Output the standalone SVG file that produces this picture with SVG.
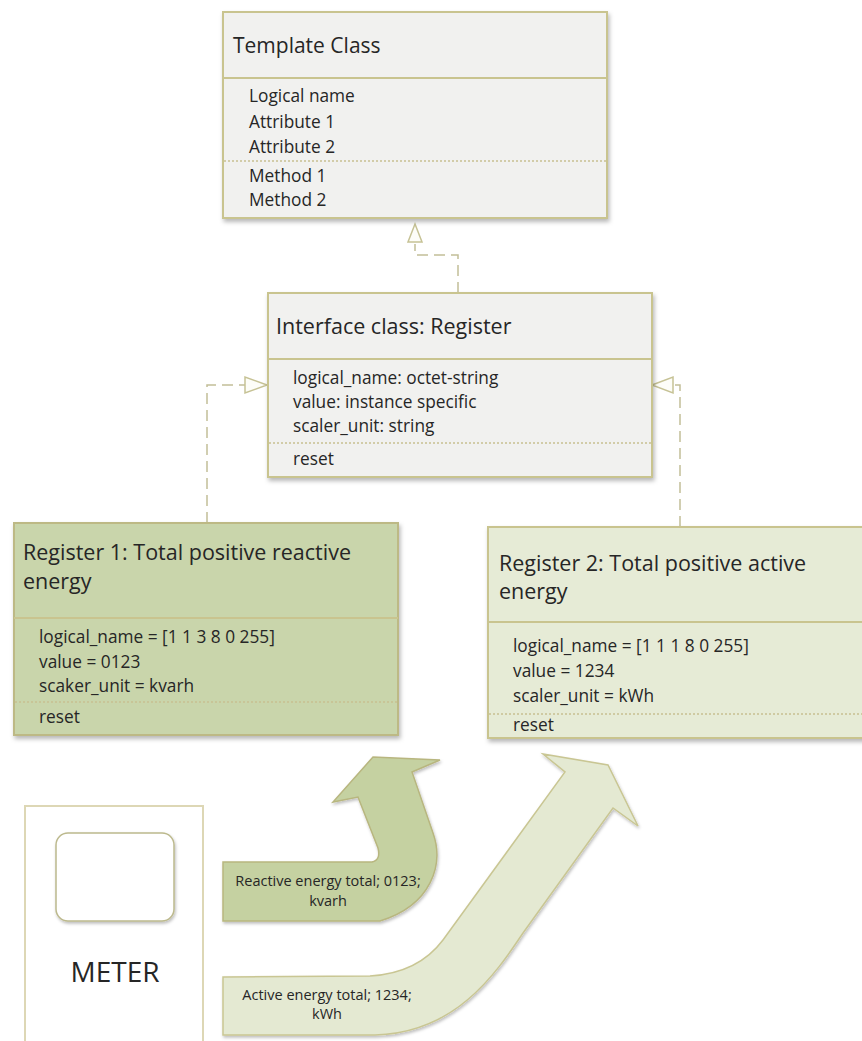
<svg xmlns="http://www.w3.org/2000/svg" width="862" height="1041" viewBox="0 0 862 1041">
  <defs>
    <filter id="shadow" x="-10%" y="-10%" width="120%" height="125%">
      <feDropShadow dx="1.5" dy="3" stdDeviation="2" flood-color="#000" flood-opacity="0.28"/>
    </filter>
    <filter id="softShadow" x="-10%" y="-10%" width="125%" height="125%">
      <feDropShadow dx="1" dy="2" stdDeviation="1.5" flood-color="#000" flood-opacity="0.25"/>
    </filter>
  </defs>
  <style>
    text { font-family: "Open Sans", Lato, "Liberation Sans", sans-serif; fill: #262626; }
    .title { font-size: 21px; }
    .item { font-size: 17.3px; }
    .rtitle { font-size: 21.5px; }
    .small { font-size: 14.5px; text-anchor: middle; }
    .cls { fill: #f1f1ef; stroke: #c9c48f; stroke-width: 2; }
    .reg1 { fill: #c9d5ab; stroke: #bdb985; stroke-width: 2; }
    .reg2 { fill: #e6ebd6; stroke: #c9c48f; stroke-width: 2; }
    .sep { stroke: #c9c48f; stroke-width: 2; }
    .dots { stroke: #c8c091; stroke-width: 1.3; stroke-dasharray: 2 2; }
    .conn { fill: none; stroke: #c2be98; stroke-width: 1.5; stroke-dasharray: 11 6; }
    .head { fill: #fdfdf8; stroke: #c6c295; stroke-width: 1.5; }
  </style>

  <!-- connectors: realization links up to the parent classes -->
  <g id="connectors">
    <path class="conn" d="M458,293 L458,255 L415,255 L415,244"/>
    <path class="head" d="M415,224 L422,242 L408,242 Z"/>
    <path class="conn" d="M207,523 L207,385 L245,385"/>
    <path class="head" d="M267,385 L245,377 L245,393 Z"/>
    <path class="conn" d="M680,527 L680,385 L673,385"/>
    <path class="head" d="M652,385 L673,377 L673,393 Z"/>
  </g>

  <!-- template class -->
  <g id="template-class">
    <rect class="cls" x="223" y="12" width="384" height="206" filter="url(#shadow)"/>
    <line class="sep" x1="223" y1="78" x2="607" y2="78"/>
    <text class="title" x="233" y="53">Template Class</text>
    <text class="item" x="249" y="102">Logical name</text>
    <text class="item" x="249" y="128">Attribute 1</text>
    <text class="item" x="249" y="153">Attribute 2</text>
    <line class="dots" x1="224" y1="161" x2="606" y2="161"/>
    <text class="item" x="249" y="182">Method 1</text>
    <text class="item" x="249" y="206">Method 2</text>
  </g>

  <!-- interface class -->
  <g id="interface-register">
    <rect class="cls" x="268" y="293" width="384" height="184" filter="url(#shadow)"/>
    <line class="sep" x1="268" y1="359" x2="652" y2="359"/>
    <text class="rtitle" x="276" y="334">Interface class: Register</text>
    <text class="item" x="293" y="384">logical_name: octet-string</text>
    <text class="item" x="293" y="408">value: instance specific</text>
    <text class="item" x="293" y="432">scaler_unit: string</text>
    <line class="dots" x1="269" y1="443" x2="651" y2="443"/>
    <text class="item" x="293" y="465">reset</text>
  </g>

  <!-- register 1 instance -->
  <g id="register-1">
    <rect class="reg1" x="14" y="523" width="384" height="212" filter="url(#shadow)"/>
    <line class="sep" x1="14" y1="618" x2="398" y2="618"/>
    <text class="rtitle" x="23" y="560">Register 1: Total positive reactive</text>
    <text class="rtitle" x="23" y="589">energy</text>
    <text class="item" x="39" y="643">logical_name = [1 1 3 8 0 255]</text>
    <text class="item" x="39" y="668">value = 0123</text>
    <text class="item" x="39" y="692">scaker_unit = kvarh</text>
    <line class="dots" x1="15" y1="702" x2="397" y2="702"/>
    <text class="item" x="39" y="723">reset</text>
  </g>

  <!-- register 2 instance -->
  <g id="register-2">
    <rect class="reg2" x="488" y="527" width="382" height="211" filter="url(#shadow)"/>
    <line class="sep" x1="488" y1="622" x2="870" y2="622"/>
    <text class="rtitle" x="499" y="571">Register 2: Total positive active</text>
    <text class="rtitle" x="499" y="599">energy</text>
    <text class="item" x="513" y="652">logical_name = [1 1 1 8 0 255]</text>
    <text class="item" x="513" y="677">value = 1234</text>
    <text class="item" x="513" y="702">scaler_unit = kWh</text>
    <line class="dots" x1="489" y1="714" x2="862" y2="714"/>
    <text class="item" x="513" y="731">reset</text>
  </g>

  <!-- meter -->
  <g id="meter">
    <rect x="25" y="806" width="178" height="260" fill="#ffffff" stroke="#ddd7b5" stroke-width="2"/>
    <rect x="56" y="833" width="118" height="88" rx="12" fill="#ffffff" stroke="#bcb98d" stroke-width="1.5" filter="url(#softShadow)"/>
    <text x="115" y="982" font-size="28" text-anchor="middle">METER</text>
  </g>

  <!-- active energy flow arrow -->
  <g id="active-flow">
    <path d="M223,977 L370,976 C405,974 428,960 443,940 L565,772 L543,754 L608,765 L638,826 L613,808 L523,933 C495,975 455,1033 375,1035 L223,1035 Z" fill="#e4e9d2" stroke="#c9c693" stroke-width="1.5" filter="url(#softShadow)"/>
    <text class="small" x="327" y="1000">Active energy total; 1234;</text>
    <text class="small" x="327" y="1019">kWh</text>
  </g>

  <!-- reactive energy flow arrow -->
  <g id="reactive-flow">
    <path d="M223,862 L372,862 Q381,860 378,848 L358,797 L333,802 L373,757 L440,760 L412,772 L433,833 C444,864 432,905 380,921 L223,921 Z" fill="#c5d1a1" stroke="#b8b67f" stroke-width="1.5" filter="url(#softShadow)"/>
    <text class="small" x="328" y="886">Reactive energy total; 0123;</text>
    <text class="small" x="328" y="906">kvarh</text>
  </g>
</svg>
